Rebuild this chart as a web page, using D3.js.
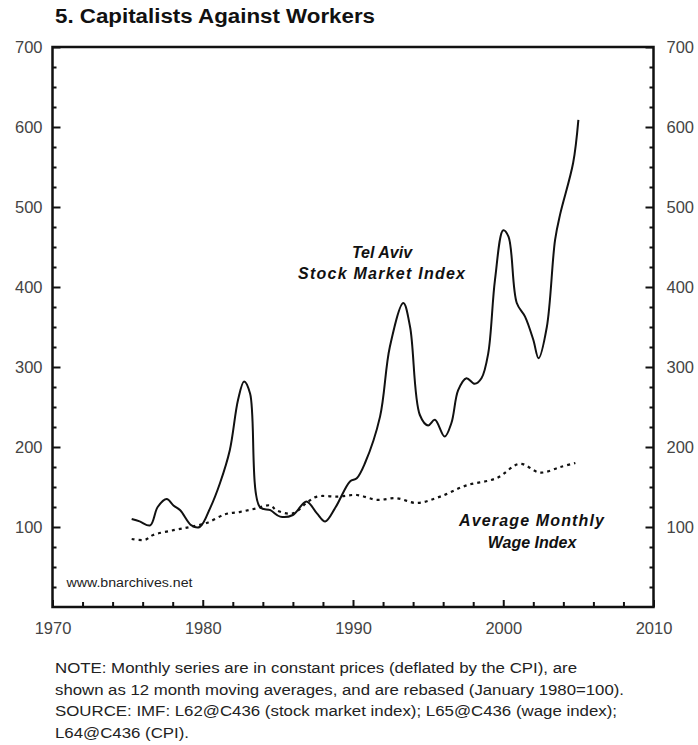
<!DOCTYPE html>
<html><head><meta charset="utf-8">
<script src="https://cdn.jsdelivr.net/npm/d3@7"></script>
<style>
body{margin:0;background:#fff;}
svg{display:block;}
</style></head>
<body>
<svg id="chart" width="698" height="745"></svg>
<script>
// ---- data ----
const stockYears = [1975.27,1975.8,1976.5,1977.0,1977.6,1978.05,1978.5,1979.25,1979.8,1980.5,1981.15,1981.8,1982.35,1982.75,1983.15,1983.8,1984.5,1985.15,1986.0,1986.9,1987.6,1988.15,1988.85,1989.8,1990.25,1990.8,1991.8,1992.45,1993.35,1993.8,1994.45,1995.0,1995.45,1996.1,1996.55,1997.0,1997.55,1998.1,1998.55,1999.0,1999.45,2000.0,2000.35,2000.9,2001.45,2002.0,2002.35,2002.9,2003.45,2003.8,2004.65,2005.0];
const stockValues = [110,107,102,125,135,127,121,102,100,124,155,196,259,282,267,125,121,113,115,132,117,107,125,157,161,180,238,325,380,350,240,227,234,213,230,271,286,279,286,317,409,471,463,380,363,334,311,350,459,492,555,609];
const wageYears = [1975.27,1976.15,1976.7,1978.05,1979.15,1980.25,1981.5,1982.5,1983.5,1984.5,1984.9,1986.0,1986.9,1987.6,1989.0,1990.25,1991.6,1992.9,1994.25,1995.8,1997.55,1999.55,2001.1,2002.45,2003.8,2004.8];
const wageValues = [85,84,90,96,100,105,116,119,123,127,121,117,130,138,138,140,134,136,130,138,152,161,179,168,175,180];
const yTicks = [100,200,300,400,500,600,700];
const xTicks = [1970,1980,1990,2000,2010];
const titleText = "5. Capitalists Against Workers";
const noteLines = [
  "NOTE: Monthly series are in constant prices (deflated by the CPI), are",
  "shown as 12 month moving averages, and are rebased (January 1980=100).",
  "SOURCE: IMF: L62@C436 (stock market index); L65@C436 (wage index);",
  "L64@C436 (CPI)."
];

const svg = d3.select("#chart");
const x = d3.scaleLinear().domain([1970,2010]).range([52.5,653.5]);
const y = d3.scaleLinear().domain([0,700]).range([607,47]);
const font = "'Liberation Sans', Arial, Helvetica, sans-serif";

// title
svg.append("text").attr("x",55).attr("y",22.5)
  .attr("font-family",font).attr("font-weight","bold").attr("font-size",20)
  .attr("textLength",320).attr("lengthAdjust","spacingAndGlyphs")
  .attr("fill","#111").text(titleText);

// axes
function styleAxis(g){
  g.select(".domain").remove();
  g.selectAll("line").attr("stroke","#111").attr("stroke-width",2);
  g.selectAll("text").attr("font-family",font).attr("font-size",16.5).attr("fill","#444");
}
const minorY = d3.range(25,700,25).filter(v=>v%100!==0);
const minorX = d3.range(1972,2010,2).filter(v=>v%10!==0);

svg.append("g").attr("transform",`translate(${x(1970)},0)`)
  .call(d3.axisLeft(y).tickValues(yTicks).tickSize(-8).tickPadding(10).tickFormat(d3.format("d"))).call(styleAxis);
svg.append("g").attr("transform",`translate(${x(1970)},0)`)
  .call(d3.axisLeft(y).tickValues(minorY).tickSize(-4).tickFormat("")).call(styleAxis);
svg.append("g").attr("transform",`translate(${x(2010)},0)`)
  .call(d3.axisRight(y).tickValues(yTicks).tickSize(-8).tickPadding(13).tickFormat(d3.format("d"))).call(styleAxis);
svg.append("g").attr("transform",`translate(${x(2010)},0)`)
  .call(d3.axisRight(y).tickValues(minorY).tickSize(-4).tickFormat("")).call(styleAxis);
svg.append("g").attr("transform",`translate(0,${y(0)})`)
  .call(d3.axisBottom(x).tickValues(xTicks).tickSize(-7).tickPadding(15).tickFormat(d3.format("d"))).call(styleAxis);
svg.append("g").attr("transform",`translate(0,${y(0)})`)
  .call(d3.axisBottom(x).tickValues(minorX).tickSize(-5).tickFormat("")).call(styleAxis);

// frame
svg.append("rect").attr("x",x(1970)).attr("y",y(700))
  .attr("width",x(2010)-x(1970)).attr("height",y(0)-y(700))
  .attr("fill","none").attr("stroke","#111").attr("stroke-width",2.5);

// lines
const stock = stockYears.map((d,i)=>[d,stockValues[i]]);
const wage = wageYears.map((d,i)=>[d,wageValues[i]]);
const line = d3.line().x(d=>x(d[0])).y(d=>y(d[1])).curve(d3.curveCatmullRom.alpha(0.5));
svg.append("path").datum(wage).attr("d",line).attr("fill","none")
  .attr("stroke","#111").attr("stroke-width",2.2).attr("stroke-dasharray","3,4");
svg.append("path").datum(stock).attr("d",line).attr("fill","none")
  .attr("stroke","#111").attr("stroke-width",2);

// annotations
const ann = svg.append("g").attr("font-family",font).attr("font-weight","bold")
  .attr("font-style","italic").attr("font-size",16).attr("fill","#111").attr("text-anchor","middle");
ann.append("text").attr("x",382).attr("y",258).text("Tel Aviv");
ann.append("text").attr("x",381.5).attr("y",279).attr("textLength",167).attr("lengthAdjust","spacing").text("Stock Market Index");
ann.append("text").attr("x",531.5).attr("y",525.5).attr("textLength",145).attr("lengthAdjust","spacing").text("Average Monthly");
ann.append("text").attr("x",532).attr("y",547.5).text("Wage Index");

svg.append("text").attr("x",66.5).attr("y",587).attr("font-family",font).attr("font-size",12)
  .attr("textLength",126).attr("lengthAdjust","spacingAndGlyphs").attr("fill","#222").text("www.bnarchives.net");

// notes
const noteW = [522,569,562,134];
const ng = svg.append("g").attr("font-family",font).attr("font-size",14).attr("fill","#222");
noteLines.forEach((t,i)=>{
  ng.append("text").attr("x",55).attr("y",673+i*21.5)
    .attr("textLength",noteW[i]).attr("lengthAdjust","spacingAndGlyphs").text(t);
});
</script>
</body></html>
